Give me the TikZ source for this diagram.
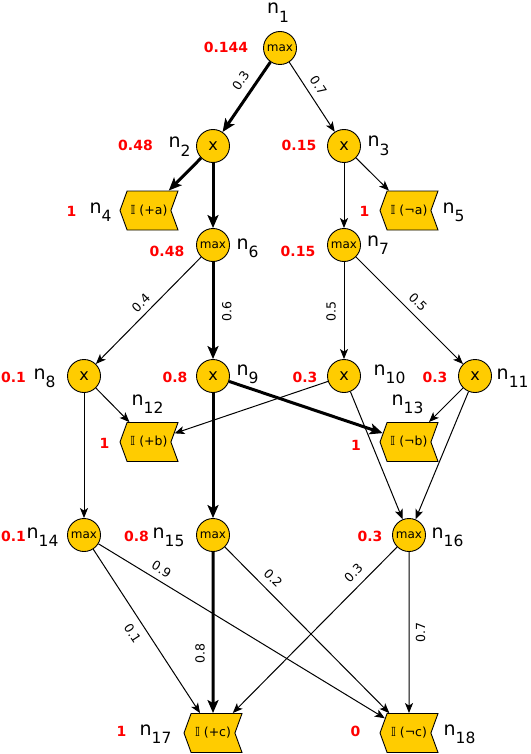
\documentclass[tikz,border=0pt]{standalone}
\usepackage{fontspec}
\setmainfont{DejaVu Sans}
\usetikzlibrary{shapes.symbols,arrows.meta}
\definecolor{spnGold}{HTML}{FFCC00}
\definecolor{spnRed}{HTML}{FF0000}
\newcommand{\nname}[1]{{\fontsize{19}{19}\selectfont n}\raisebox{-8.5pt}{\fontsize{15.5}{16}\selectfont #1}}
\newcommand{\ind}{𝕀}
\tikzset{
  sum node/.style={circle, draw, line width=0.9pt, fill=spnGold,
    minimum size=33pt, inner sep=0pt, font=\fontsize{12}{12}\selectfont},
  prod node/.style={circle, draw, line width=0.9pt, fill=spnGold,
    minimum size=33pt, inner sep=0pt, font=\fontsize{16}{16}\selectfont},
  leaf node/.style={signal, signal to=west, signal from=east,
    signal pointer angle=140, draw, line width=0.9pt, fill=spnGold,
    minimum width=58pt, minimum height=39pt, inner sep=0pt,
    font=\fontsize{12.5}{12.5}\selectfont},
  val label/.style={text=spnRed, font=\bfseries\fontsize{14}{14}\selectfont,
    anchor=base, inner sep=0pt},
  name label/.style={anchor=base west, inner sep=0pt},
  edge label/.style={font=\fontsize{12.5}{12.5}\selectfont, inner xsep=0pt},
  thin arrow/.style={-{Stealth[length=10pt, width=8pt, inset=2.5pt]}, line width=1pt},
  thick arrow/.style={-{Stealth[length=13pt, width=11pt, inset=3pt]}, line width=3pt},
}

\begin{document}
\begin{tikzpicture}[x=1pt, y=-1pt]
\useasboundingbox (0,0) rectangle (530,754);

% Root
\node[sum node] (n1) at (280,48) {max};

% Products under the root
\node[prod node] (n2) at (213,146) {x};
\node[prod node] (n3) at (344,146) {x};
\node[leaf node] (n4) at (149,210.5) {\ind\ (+a)};
\node[leaf node] (n5) at (409,210.5) {\ind\ (¬a)};
\node[sum node] (n6) at (213,245) {max};
\node[sum node] (n7) at (344,245) {max};

% Middle layer
\node[prod node] (n8)  at (84,376)  {x};
\node[prod node] (n9)  at (213,376) {x};
\node[prod node] (n10) at (344,376) {x};
\node[prod node] (n11) at (475,376) {x};
\node[leaf node] (n12) at (149,442) {\ind\ (+b)};
\node[leaf node] (n13) at (409,442) {\ind\ (¬b)};

% Lower sums and leaves
\node[sum node] (n14) at (84,535)  {max};
\node[sum node] (n15) at (213,535) {max};
\node[sum node] (n16) at (409,535) {max};
\node[leaf node] (n17) at (213,733) {\ind\ (+c)};
\node[leaf node] (n18) at (409,733) {\ind\ (¬c)};

% Node names
\foreach \i/\x/\y in {1/267/14, 2/168.5/148, 3/367.5/147, 4/89.5/213, 5/442.5/213,
    6/236.5/249, 7/367/246, 8/33.5/379, 9/236.5/375, 10/373.5/375, 11/496.5/379,
    12/131.5/405, 13/391.5/405, 14/26.5/538, 15/152.5/538, 16/431.5/538,
    17/139.5/735, 18/443.5/735}
  \node[name label] (l\i) at (\x,\y) {\nname{\i}};

% Values (red)
\foreach \i/\x/\y/\v in {1/226/53/0.144, 2/135.5/151/0.48, 3/299/151/0.15,
    4/71.5/216/1, 5/364.5/216/1, 6/167/256/0.48, 7/298/256/0.15,
    8/13.5/382/0.1, 9/175/382/0.8, 10/305/382/0.3, 11/435/382/0.3,
    12/104.5/448/1, 13/356/450/1, 14/13.5/541/0.1, 15/136.5/541/0.8,
    16/370/541/0.3, 17/121.5/736/1, 18/355.5/736/0}
  \node[val label] (v\i) at (\x,\y) {\v};

% Edges, top
\draw[thick arrow] (n1) -- (n2)
  node[edge label, pos=0.38, sloped, anchor=south, inner ysep=7.8pt] {0.3};
\draw[thin arrow] (n1) -- (n3)
  node[edge label, pos=0.43, sloped, anchor=south, inner ysep=6.3pt] {0.7};
\draw[thick arrow] (n2) -- (n4);
\draw[thick arrow] (n2) -- (n6);
\draw[thin arrow] (n3) -- (n5);
\draw[thin arrow] (n3) -- (n7);

% Edges, middle
\draw[thin arrow] (n6) -- (n8)
  node[edge label, pos=0.5, sloped, anchor=south, inner ysep=5.4pt] {0.4};
\draw[thick arrow] (n6) -- (n9)
  node[edge label, pos=0.51, rotate=90, anchor=north, inner ysep=7.7pt] {0.6};
\draw[thin arrow] (n7) -- (n10)
  node[edge label, pos=0.51, rotate=90, anchor=south, inner ysep=7.7pt] {0.5};
\draw[thin arrow] (n7) -- (n11)
  node[edge label, pos=0.5, sloped, anchor=south, inner ysep=6.8pt] {0.5};
\draw[thin arrow] (n8) -- (n12);
\draw[thin arrow] (n8) -- (n14);
\draw[thick arrow] (n9) -- (n13);
\draw[thick arrow] (n9) -- (n15);
\draw[thin arrow] (n10) -- (n12);
\draw[thin arrow] (n10) -- (n16);
\draw[thin arrow] (n11) -- (n13);
\draw[thin arrow] (n11) -- (n16);

% Edges, bottom
\draw[thin arrow] (n14) -- (n17)
  node[edge label, pos=0.47, sloped, anchor=north, inner ysep=7.8pt] {0.1};
\draw[thin arrow] (n14) -- (n18)
  node[edge label, pos=0.2, sloped, anchor=south, inner ysep=5.9pt] {0.9};
\draw[thick arrow] (n15) -- (n17)
  node[edge label, pos=0.63, rotate=90, anchor=south, inner ysep=6.7pt] {0.8};
\draw[thin arrow] (n15) -- (n18)
  node[edge label, pos=0.24, sloped, anchor=south, inner ysep=7.1pt] {0.2};
\draw[thin arrow] (n16) -- (n17)
  node[edge label, pos=0.21, sloped, anchor=south, inner ysep=7.6pt] {0.3};
\draw[thin arrow] (n16) -- (n18)
  node[edge label, pos=0.5, rotate=90, anchor=north, inner ysep=6.4pt] {0.7};

\end{tikzpicture}
\end{document}
